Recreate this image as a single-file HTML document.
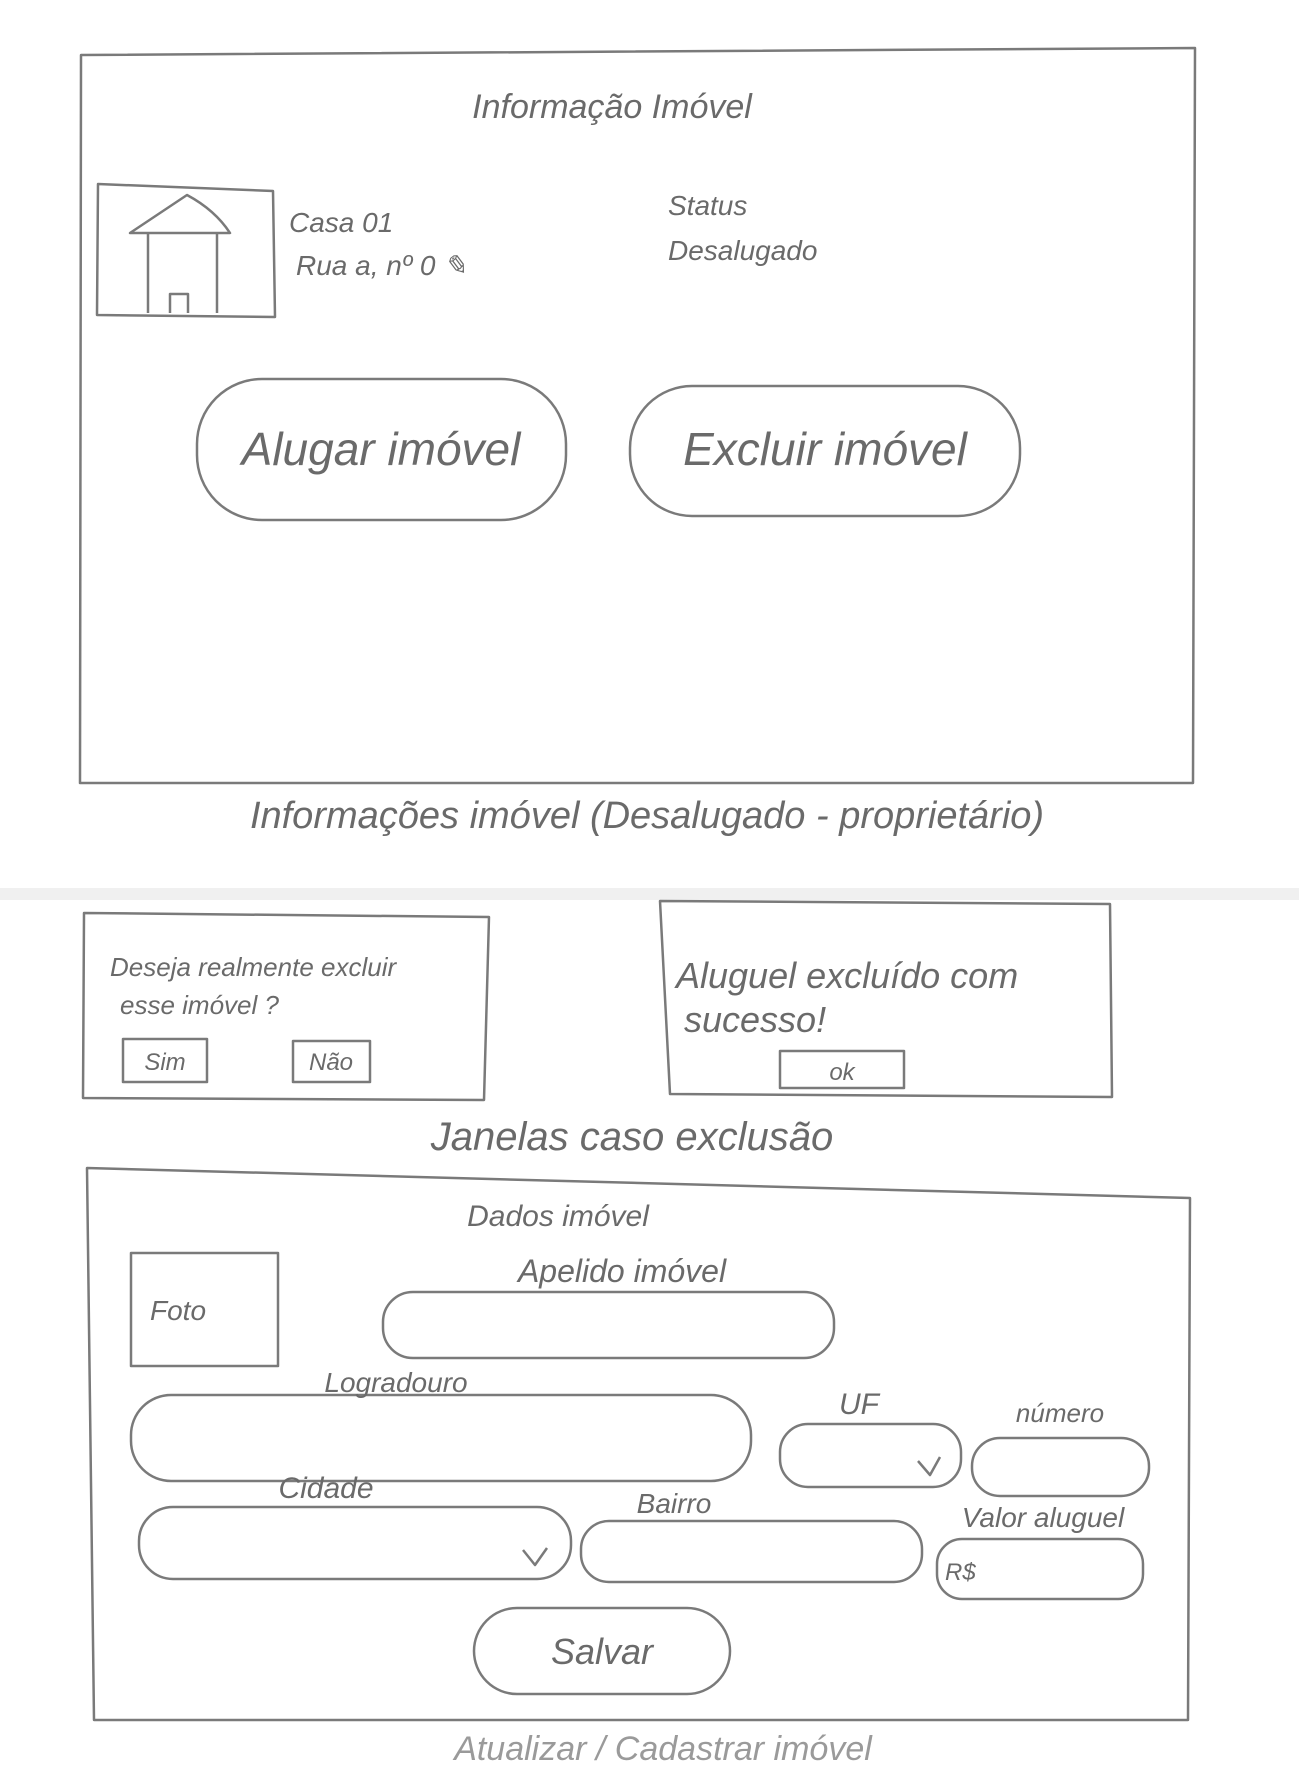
<!DOCTYPE html>
<html><head><meta charset="utf-8"><style>
html,body{margin:0;padding:0;background:#fff;}
svg{display:block;}
text{font-family:"Liberation Sans",sans-serif;font-style:italic;fill:#6a6a6a;}
</style></head><body>
<svg width="1299" height="1789" viewBox="0 0 1299 1789" xmlns="http://www.w3.org/2000/svg">
<rect width="1299" height="1789" fill="#fff"/>
<rect x="0" y="888" width="1299" height="12" fill="#f0f0f0"/>
<g fill="none" stroke="#7a7a7a" stroke-width="2.5" stroke-linejoin="round">
<!-- main box -->
<path d="M81 55 L1195 48 L1193 783 L80 783 Z"/>
<!-- house image -->
<path d="M98 184 L273 191 L275 317 L97 315 Z"/>
<path d="M130 233 L187 195 Q215 210 230 233 Z"/>
<path d="M148 233 L148 313 M217 233 L217 313 M170 313 L170 294 L188 294 L188 313"/>
<!-- buttons -->
<rect x="197" y="379" width="369" height="141" rx="65" ry="65"/>
<rect x="630" y="386" width="390" height="130" rx="62" ry="62"/>
<!-- dialog 1 -->
<path d="M84 913 L489 917 L484 1100 L83 1098 Z"/>
<rect x="123" y="1039" width="84" height="43"/>
<rect x="293" y="1041" width="77" height="41"/>
<!-- dialog 2 -->
<path d="M660 901 L1110 904 L1112 1097 L670 1094 Z"/>
<rect x="780" y="1051" width="124" height="37"/>
<!-- form box -->
<path d="M87 1168 L1190 1198 L1188 1720 L94 1720 Z"/>
<rect x="131" y="1253" width="147" height="113"/>
<rect x="383" y="1292" width="451" height="66" rx="30"/>
<rect x="131" y="1395" width="620" height="86" rx="40"/>
<rect x="780" y="1424" width="181" height="63" rx="28"/>
<rect x="972" y="1438" width="177" height="58" rx="28"/>
<rect x="139" y="1507" width="432" height="72" rx="34"/>
<path d="M523 1550 L535 1565 L547 1548"/>
<rect x="581" y="1521" width="341" height="61" rx="28"/>
<rect x="937" y="1539" width="206" height="60" rx="25"/>
<path d="M918 1461 L930 1475 L940 1457"/>
<rect x="474" y="1608" width="256" height="86" rx="43"/>
</g>
<g>
<text x="612" y="118" font-size="34" text-anchor="middle">Informação Imóvel</text>
<text x="289" y="232" font-size="28">Casa 01</text>
<text x="296" y="275" font-size="28">Rua a, nº 0 ✎</text>
<text x="668" y="215" font-size="28">Status</text>
<text x="668" y="260" font-size="28">Desalugado</text>
<text x="381" y="465" font-size="46" text-anchor="middle">Alugar imóvel</text>
<text x="825" y="465" font-size="46" text-anchor="middle">Excluir imóvel</text>
<text x="647" y="828" font-size="38" text-anchor="middle">Informações imóvel (Desalugado - proprietário)</text>
<text x="110" y="976" font-size="26">Deseja realmente excluir</text>
<text x="120" y="1014" font-size="26">esse imóvel ?</text>
<text x="165" y="1070" font-size="24" text-anchor="middle">Sim</text>
<text x="331" y="1070" font-size="24" text-anchor="middle">Não</text>
<text x="676" y="988" font-size="36">Aluguel excluído com</text>
<text x="684" y="1032" font-size="36">sucesso!</text>
<text x="842" y="1080" font-size="24" text-anchor="middle">ok</text>
<text x="632" y="1150" font-size="40" text-anchor="middle">Janelas caso exclusão</text>
<text x="558" y="1226" font-size="30" text-anchor="middle">Dados imóvel</text>
<text x="150" y="1320" font-size="28">Foto</text>
<text x="622" y="1282" font-size="32" text-anchor="middle">Apelido imóvel</text>
<text x="396" y="1392" font-size="28" text-anchor="middle">Logradouro</text>
<text x="859" y="1414" font-size="30" text-anchor="middle">UF</text>
<text x="1060" y="1422" font-size="26" text-anchor="middle">número</text>
<text x="326" y="1498" font-size="30" text-anchor="middle">Cidade</text>
<text x="674" y="1513" font-size="28" text-anchor="middle">Bairro</text>
<text x="1043" y="1527" font-size="28" text-anchor="middle">Valor aluguel</text>
<text x="945" y="1580" font-size="24">R$</text>
<text x="602" y="1664" font-size="36" text-anchor="middle">Salvar</text>
<text x="663" y="1760" font-size="34" text-anchor="middle" style="fill:#9a9a9a">Atualizar / Cadastrar imóvel</text>
</g>
</svg>
</body></html>
